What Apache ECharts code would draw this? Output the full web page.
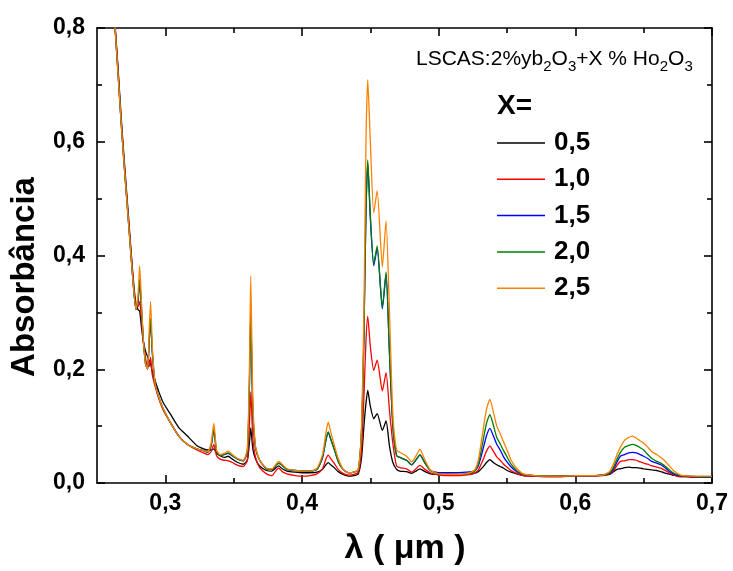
<!DOCTYPE html>
<html><head><meta charset="utf-8">
<script src="https://cdn.jsdelivr.net/npm/echarts@6/dist/echarts.min.js"></script>
<style>html,body{margin:0;padding:0;background:#fff}#c{width:733px;height:571px}</style>
</head><body><div id="c"></div>
<script>
// wavelength (µm)
const lambda = [0.2625,0.2650,0.2675,0.2700,0.2730,0.2765,0.2785,0.2800,0.2812,0.2825,
0.2838,0.2855,0.2870,0.2882,0.2892,0.2905,0.2925,0.2950,0.2985,0.3035,
0.3100,0.3160,0.3230,0.3280,0.3310,0.3335,0.3355,0.3375,0.3400,0.3430,
0.3460,0.3490,0.3530,0.3570,0.3600,0.3615,0.3625,0.3640,0.3660,0.3690,
0.3740,0.3780,0.3810,0.3830,0.3855,0.3890,0.3950,0.4000,0.4060,0.4110,
0.4150,0.4175,0.4192,0.4210,0.4235,0.4265,0.4300,0.4340,0.4380,0.4412,
0.4436,0.4453,0.4468,0.4481,0.4500,0.4525,0.4550,0.4588,0.4615,0.4640,
0.4665,0.4692,0.4716,0.4765,0.4802,0.4835,0.4863,0.4900,0.4940,0.5000,
0.5100,0.5200,0.5260,0.5290,0.5320,0.5350,0.5375,0.5400,0.5425,0.5450,
0.5475,0.5500,0.5530,0.5570,0.5620,0.5700,0.5800,0.5900,0.6000,0.6100,
0.6200,0.6250,0.6280,0.6305,0.6330,0.6360,0.6390,0.6418,0.6445,0.6475,
0.6500,0.6530,0.6560,0.6595,0.6625,0.6650,0.6680,0.6710,0.6740,0.6770,
0.6800,0.6850,0.6900,0.6950,0.7000];

// X = 0,5
const abs05 = [0.830,0.745,0.650,0.565,0.470,0.360,0.315,0.305,0.302,0.275,
0.250,0.232,0.222,0.215,0.210,0.195,0.180,0.162,0.141,0.122,
0.097,0.083,0.066,0.060,0.058,0.058,0.060,0.052,0.048,0.045,
0.047,0.042,0.036,0.033,0.040,0.070,0.097,0.060,0.042,0.030,
0.022,0.021,0.027,0.030,0.025,0.021,0.019,0.018,0.018,0.019,
0.024,0.032,0.036,0.032,0.027,0.020,0.015,0.012,0.013,0.016,
0.045,0.100,0.140,0.163,0.135,0.113,0.122,0.0925,0.109,0.065,
0.036,0.024,0.021,0.020,0.017,0.021,0.025,0.020,0.016,0.015,
0.015,0.015,0.017,0.020,0.027,0.036,0.041,0.036,0.032,0.029,
0.026,0.022,0.019,0.016,0.013,0.012,0.012,0.013,0.013,0.013,
0.014,0.015,0.020,0.024,0.025,0.027,0.028,0.027,0.027,0.026,
0.025,0.024,0.023,0.022,0.020,0.018,0.016,0.014,0.013,0.012,
0.012,0.011,0.011,0.010,0.010];

// X = 1,0
const abs10 = [0.828,0.740,0.645,0.560,0.465,0.355,0.310,0.310,0.319,0.290,
0.250,0.220,0.205,0.205,0.221,0.190,0.170,0.150,0.128,0.107,
0.082,0.068,0.058,0.053,0.050,0.055,0.068,0.048,0.042,0.040,
0.039,0.036,0.031,0.029,0.040,0.100,0.160,0.080,0.045,0.027,
0.016,0.013,0.022,0.026,0.020,0.016,0.013,0.012,0.013,0.016,
0.025,0.042,0.049,0.043,0.035,0.024,0.017,0.014,0.015,0.019,
0.060,0.150,0.250,0.293,0.240,0.198,0.216,0.162,0.194,0.128,
0.069,0.030,0.027,0.025,0.019,0.025,0.031,0.024,0.018,0.014,
0.013,0.014,0.017,0.023,0.038,0.056,0.065,0.056,0.046,0.040,
0.033,0.028,0.022,0.017,0.013,0.012,0.011,0.011,0.012,0.012,
0.013,0.016,0.022,0.031,0.038,0.039,0.041,0.041,0.040,0.037,
0.035,0.033,0.030,0.028,0.026,0.023,0.019,0.015,0.012,0.011,
0.011,0.010,0.010,0.010,0.010];

// X = 1,5
const abs15 = [0.825,0.735,0.640,0.555,0.460,0.350,0.305,0.318,0.355,0.308,
0.255,0.210,0.200,0.248,0.286,0.228,0.175,0.152,0.130,0.107,
0.082,0.068,0.060,0.057,0.054,0.065,0.093,0.055,0.049,0.050,
0.052,0.048,0.042,0.039,0.054,0.167,0.296,0.128,0.062,0.040,
0.025,0.024,0.031,0.035,0.031,0.024,0.022,0.021,0.021,0.024,
0.044,0.075,0.089,0.077,0.060,0.038,0.024,0.018,0.019,0.023,
0.094,0.258,0.476,0.563,0.466,0.382,0.413,0.306,0.367,0.228,
0.099,0.048,0.045,0.040,0.032,0.041,0.049,0.035,0.022,0.018,
0.018,0.019,0.021,0.030,0.055,0.083,0.096,0.083,0.068,0.058,
0.046,0.037,0.028,0.020,0.015,0.013,0.012,0.012,0.013,0.013,
0.014,0.017,0.025,0.037,0.047,0.050,0.053,0.054,0.053,0.050,
0.047,0.043,0.038,0.035,0.032,0.028,0.022,0.017,0.014,0.012,
0.012,0.011,0.011,0.010,0.010];

// X = 2,0
const abs20 = [0.825,0.735,0.640,0.555,0.460,0.350,0.305,0.320,0.358,0.310,
0.255,0.210,0.200,0.250,0.289,0.230,0.175,0.152,0.130,0.107,
0.082,0.068,0.060,0.057,0.054,0.066,0.095,0.055,0.049,0.050,
0.053,0.048,0.042,0.039,0.055,0.170,0.300,0.130,0.062,0.040,
0.025,0.024,0.031,0.035,0.031,0.024,0.022,0.021,0.021,0.024,
0.045,0.076,0.090,0.078,0.060,0.038,0.024,0.018,0.019,0.023,
0.095,0.260,0.480,0.568,0.470,0.385,0.417,0.309,0.371,0.230,
0.100,0.048,0.045,0.040,0.032,0.041,0.050,0.035,0.022,0.016,
0.015,0.016,0.020,0.033,0.068,0.105,0.120,0.102,0.080,0.069,
0.057,0.046,0.033,0.022,0.015,0.013,0.013,0.012,0.013,0.013,
0.014,0.018,0.028,0.042,0.054,0.063,0.066,0.068,0.066,0.062,
0.058,0.050,0.043,0.038,0.035,0.031,0.025,0.019,0.015,0.013,
0.012,0.012,0.011,0.011,0.011];

// X = 2,5
const abs25 = [0.825,0.735,0.640,0.555,0.460,0.350,0.305,0.330,0.382,0.320,
0.255,0.210,0.200,0.270,0.319,0.240,0.175,0.152,0.130,0.107,
0.082,0.068,0.060,0.057,0.055,0.070,0.105,0.058,0.050,0.052,
0.056,0.050,0.043,0.040,0.060,0.200,0.364,0.150,0.065,0.040,
0.026,0.025,0.033,0.038,0.033,0.025,0.022,0.021,0.021,0.026,
0.050,0.088,0.107,0.090,0.068,0.043,0.025,0.018,0.019,0.024,
0.100,0.300,0.600,0.709,0.600,0.475,0.514,0.380,0.461,0.300,
0.120,0.058,0.054,0.047,0.037,0.048,0.059,0.040,0.023,0.016,
0.015,0.016,0.022,0.040,0.085,0.130,0.147,0.125,0.100,0.087,
0.072,0.058,0.040,0.026,0.016,0.013,0.012,0.012,0.013,0.013,
0.014,0.020,0.034,0.050,0.063,0.075,0.080,0.0825,0.079,0.074,
0.070,0.063,0.055,0.050,0.045,0.040,0.032,0.024,0.018,0.014,
0.013,0.012,0.012,0.012,0.012];

const seriesNames = ['0,5','1,0','1,5','2,0','2,5'];
const seriesColors = ['#000000','#ff0000','#0000ff','#008000','#ff8000'];
const seriesValues = [abs05, abs10, abs15, abs20, abs25];

const xMajorTicks = [0.3,0.4,0.5,0.6,0.7];
const xMinorTicks = [0.35,0.45,0.55,0.65];
const yMajorTicks = [0.0,0.2,0.4,0.6,0.8];
const yMinorTicks = [0.1,0.3,0.5,0.7];

const FONT = '"Liberation Sans", Arial, sans-serif';
const fmt = v => Number(v).toFixed(1).replace('.', ',');

function mkX(pos, ticks, len, labels, line) {
  return {
    type: 'value', min: 0.25, max: 0.7, position: pos,
    axisLine: {show: line, onZero: false, lineStyle: {color: '#000', width: 1.6}},
    axisTick: {show: true, inside: true, length: len, customValues: ticks, lineStyle: {color: '#000', width: 1.6}},
    axisLabel: labels ? {show: true, customValues: ticks, formatter: fmt, fontSize: 23, fontWeight: 'bold',
      fontFamily: FONT, color: '#000', margin: 9} : {show: false},
    splitLine: {show: false}
  };
}
function mkY(pos, ticks, len, labels, line) {
  return {
    type: 'value', min: 0, max: 0.8, position: pos,
    axisLine: {show: line, onZero: false, lineStyle: {color: '#000', width: 1.6}},
    axisTick: {show: true, inside: true, length: len, customValues: ticks, lineStyle: {color: '#000', width: 1.6}},
    axisLabel: labels ? {show: true, customValues: ticks, formatter: fmt, fontSize: 23, fontWeight: 'bold',
      fontFamily: FONT, color: '#000', margin: 12} : {show: false},
    splitLine: {show: false}
  };
}

const chart = echarts.init(document.getElementById('c'), null, {renderer: 'canvas'});
chart.setOption({
  animation: false,
  backgroundColor: '#fff',
  grid: {left: 97, right: 21, top: 28, bottom: 88, containLabel: false},
  xAxis: [
    mkX('bottom', xMajorTicks, 8, true, true),
    mkX('bottom', xMinorTicks, 5, false, false),
    mkX('top', xMajorTicks, 8, false, true),
    mkX('top', xMinorTicks, 5, false, false)
  ],
  yAxis: [
    mkY('left', yMajorTicks, 8, true, true),
    mkY('left', yMinorTicks, 5, false, false),
    mkY('right', yMajorTicks, 8, false, true),
    mkY('right', yMinorTicks, 5, false, false)
  ],
  legend: {
    data: seriesNames, orient: 'vertical', left: 497, top: 130, padding: 0,
    icon: 'rect', itemWidth: 48, itemHeight: 1.5, itemGap: 10.3, selectedMode: false,
    textStyle: {fontSize: 26, fontWeight: 'bold', fontFamily: FONT, color: '#000', lineHeight: 26, padding: [0,0,0,4]}
  },
  graphic: [
    {type: 'text', x: 497, y: 106, style: {text: 'X=', font: 'bold 28px ' + FONT, fill: '#000', verticalAlign: 'middle'}},
    {type: 'text', x: 416, y: 44, style: {
      text: 'LSCAS:2%yb{s|2}O{s|3}+X % Ho{s|2}O{s|3}', fontSize: 21, fontFamily: FONT, fill: '#000', lineHeight: 30,
      rich: {s: {fontSize: 15, fontFamily: FONT, fill: '#000', lineHeight: 15, verticalAlign: 'bottom'}}
    }},
    {type: 'text', x: 25, y: 277, rotation: Math.PI / 2, style: {text: 'Absorbância', font: 'bold 33px ' + FONT,
      fill: '#000', align: 'center', verticalAlign: 'middle'}},
    {type: 'text', x: 405, y: 549, style: {text: 'λ ( μm )', font: 'bold 34px ' + FONT,
      fill: '#000', align: 'center', verticalAlign: 'middle'}}
  ],
  series: seriesValues.map((vals, i) => ({
    name: seriesNames[i], type: 'line', xAxisIndex: 0, yAxisIndex: 0,
    symbol: 'none', showSymbol: false, smooth: 0.2, clip: true,
    lineStyle: {color: seriesColors[i], width: 1.3}, itemStyle: {color: seriesColors[i]},
    data: lambda.map((x, k) => [x, vals[k]])
  }))
});
</script></body></html>
